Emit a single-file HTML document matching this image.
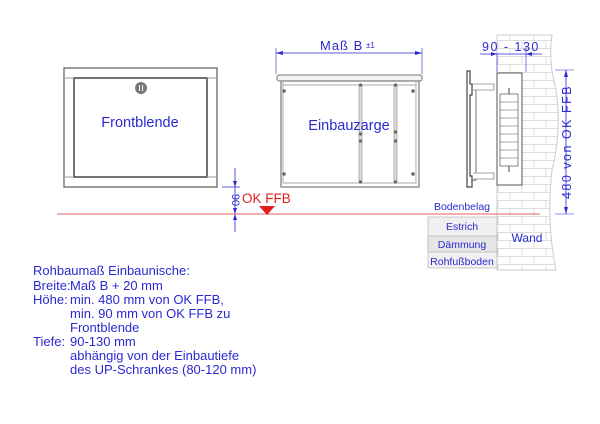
<!DOCTYPE html>
<html><head><meta charset="utf-8"><style>body{margin:0;background:#fff}svg{display:block}</style></head><body>
<svg width="600" height="424" xmlns="http://www.w3.org/2000/svg" font-family="Liberation Sans, sans-serif">
<defs>
<pattern id="brick" width="24" height="16" patternUnits="userSpaceOnUse">
<rect width="24" height="16" fill="#fff"/>
<path d="M0 0.5H24M0 8.5H24M6 0V8M18 8V16" stroke="#ddd" stroke-width="1"/>
</pattern>
</defs>
<path d="M497 35 L552 35 Q548 60 556 90 Q562 130 552 170 Q546 220 556 270 L497 270 Z" fill="url(#brick)" stroke="#ccc"/>
<rect x="64" y="68" width="153" height="119" fill="#fff" stroke="#666" stroke-width="1.3"/>
<rect x="74" y="78" width="133" height="99" fill="#fff" stroke="#444" stroke-width="1.5"/>
<path d="M64 78H74M207 78H217M64 177H74M207 177H217" stroke="#999"/>
<circle cx="141" cy="88" r="6" fill="#777"/><path d="M139.5 85V91M142.5 85V91" stroke="#fff" stroke-width="1"/>
<text x="140" y="127" font-size="14.5" fill="#2a2ad0" text-anchor="middle">Frontblende</text>
<path d="M222 187H240M235 168V232" stroke="#2a2ad0" stroke-width="0.8"/>
<path d="M235 187l-2-6h4zM235 214l-2 6h4z" fill="#2a2ad0"/>
<path d="M235 214l-2-6h4z" fill="#2a2ad0"/>
<text transform="translate(232,200) rotate(90)" font-size="11" fill="#2a2ad0" text-anchor="middle">90</text>
<line x1="57" y1="214" x2="540" y2="214" stroke="#e06060" stroke-width="1"/>
<text x="242" y="203" font-size="13.5" fill="#e02020">OK FFB</text>
<path d="M259 206H275L267 215Z" fill="#e02020"/>
<path d="M276 48V74M422 48V74" stroke="#2a2ad0" stroke-width="0.6"/>
<line x1="276" y1="53" x2="422" y2="53" stroke="#2a2ad0" stroke-width="0.8"/>
<path d="M276 53l7-2v4zM422 53l-7-2v4z" fill="#2a2ad0"/>
<text x="320" y="50" font-size="13" fill="#2a2ad0" letter-spacing="1">Maß B</text>
<text x="366" y="48" font-size="8" fill="#2a2ad0">±1</text>
<rect x="277" y="75" width="145" height="6" rx="2" fill="#f4f4f4" stroke="#777"/>
<rect x="281" y="81" width="138" height="106" fill="#fff" stroke="#777" stroke-width="1.2"/>
<path d="M283 82V183H416V82M283 85H416" stroke="#aaa" fill="none"/>
<rect x="359" y="85" width="3" height="97" fill="#ddd" stroke="#888" stroke-width="0.6"/>
<rect x="394" y="85" width="3" height="97" fill="#ddd" stroke="#888" stroke-width="0.6"/>
<g fill="#666"><circle cx="284" cy="91" r="1.8"/><circle cx="413" cy="91" r="1.8"/><circle cx="284" cy="174" r="1.8"/><circle cx="413" cy="174" r="1.8"/>
<circle cx="360.5" cy="85" r="1.6"/><circle cx="360.5" cy="182" r="1.6"/><circle cx="360.5" cy="134" r="1.6"/><circle cx="360.5" cy="141" r="1.6"/>
<circle cx="395.5" cy="85" r="1.6"/><circle cx="395.5" cy="182" r="1.6"/><circle cx="395.5" cy="132" r="1.6"/><circle cx="395.5" cy="141" r="1.6"/></g>
<text x="349" y="130" font-size="14.5" fill="#2a2ad0" text-anchor="middle">Einbauzarge</text>
<path d="M467 71H470V84H472V95H470V176H472V187H467Z" fill="#fff" stroke="#444" stroke-width="1.2"/>
<path d="M471 84L476 85V180L471 181" fill="none" stroke="#777"/>
<path d="M473 84H494V90H473M473 173H494V179H473" fill="#fff" stroke="#888" stroke-width="0.8"/>
<rect x="497" y="73" width="25" height="112" fill="#fff" stroke="#555"/>
<rect x="500" y="94" width="18" height="72" fill="#fff" stroke="#666" stroke-width="0.8"/>
<path d="M500 102H518M500 110H518M500 118H518M500 126H518M500 134H518M500 142H518M500 150H518M500 158H518" stroke="#888" stroke-width="0.7"/>
<path d="M509 88V94M509 166V172" stroke="#444"/>
<path d="M497 53V72M526 47V72" stroke="#2a2ad0" stroke-width="0.6"/>
<line x1="480" y1="54" x2="542" y2="54" stroke="#2a2ad0" stroke-width="0.8"/>
<path d="M497 54l-6-2v4zM526 54l6-2v4z" fill="#2a2ad0"/>
<text x="482" y="51" font-size="12.5" fill="#2a2ad0" letter-spacing="1.5">90 - 130</text>
<path d="M555 70H574M555 214H574" stroke="#2a2ad0" stroke-width="0.6"/>
<line x1="566" y1="70" x2="566" y2="214" stroke="#2a2ad0" stroke-width="0.8"/>
<path d="M566 70l-2 7h4zM566 214l-2-7h4z" fill="#2a2ad0"/>
<text transform="translate(571,142) rotate(-90)" font-size="12.5" fill="#2a2ad0" text-anchor="middle" letter-spacing="1.5">480 von OK FFB</text>
<rect x="428" y="217" width="69" height="51" fill="#f0f0f0" stroke="#aaa" stroke-width="0.6"/>
<rect x="428" y="236" width="69" height="16" fill="#e6e6e6" stroke="#aaa" stroke-width="0.6"/>
<g font-size="10.5" fill="#2a2ad0" text-anchor="middle">
<text x="462" y="210">Bodenbelag</text>
<text x="462" y="230">Estrich</text>
<text x="462" y="248">Dämmung</text>
<text x="462" y="265">Rohfußboden</text>
<text x="527" y="242" font-size="12">Wand</text>
</g>
<g font-size="13" fill="#2a2ad0">
<text x="33" y="275">Rohbaumaß Einbaunische:</text>
<text x="33" y="290">Breite:</text><text x="70" y="290">Maß B + 20 mm</text>
<text x="33" y="304">Höhe:</text><text x="70" y="304">min. 480 mm von OK FFB,</text>
<text x="70" y="318">min. 90 mm von OK FFB zu</text>
<text x="70" y="332">Frontblende</text>
<text x="33" y="346">Tiefe:</text><text x="70" y="346">90-130 mm</text>
<text x="70" y="360">abhängig von der Einbautiefe</text>
<text x="70" y="374">des UP-Schrankes (80-120 mm)</text>
</g>
</svg>
</body></html>
